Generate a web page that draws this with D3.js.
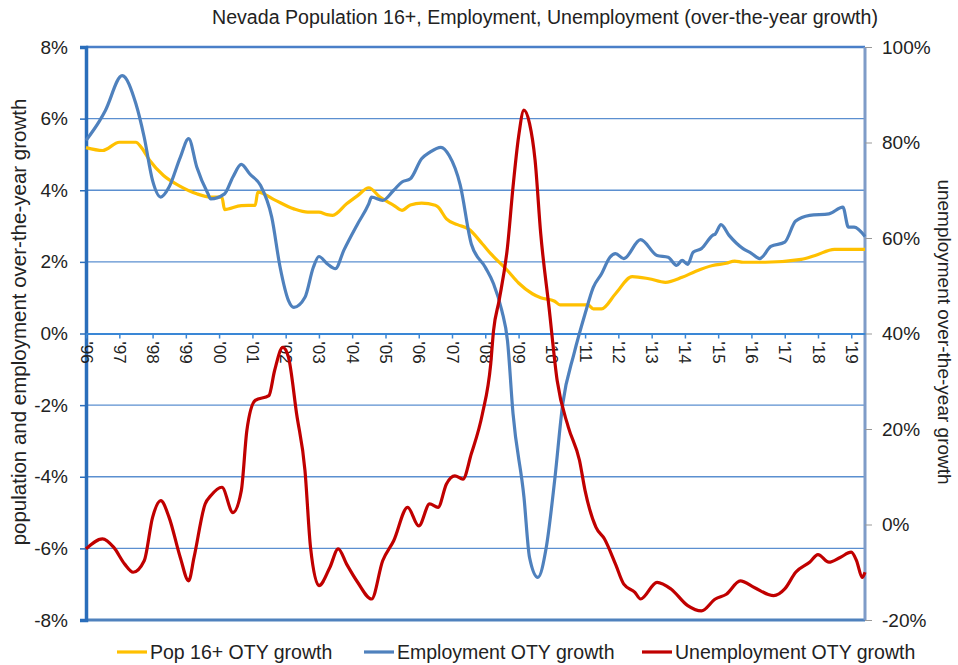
<!DOCTYPE html>
<html>
<head>
<meta charset="utf-8">
<script src="https://cdn.jsdelivr.net/npm/d3@7"></script>
<style>
  body { margin: 0; background: #fff; }
  text { font-family: "Liberation Sans", Arial, sans-serif; fill: #222; }
</style>
</head>
<body>
<svg id="chart" width="958" height="665"></svg>
<script>
// monthly points (left axis, %)
var popDates = ["1996-01","1996-07","1997-01","1997-07","1997-09","1997-12","1998-05","1998-11","1999-05","1999-10",
  "2000-02","2000-03","2000-09","2001-02","2001-03","2001-09","2002-04","2002-09","2003-01","2003-04","2003-06",
  "2003-11","2004-03","2004-07","2004-11","2005-04","2005-07","2005-10","2006-02","2006-07","2006-08","2006-11",
  "2007-03","2007-07","2007-12","2008-03","2008-09","2009-01","2009-06","2009-09","2010-02","2010-04","2011-02",
  "2011-04","2011-07","2011-12","2012-06","2012-12","2013-06","2013-12","2014-05","2014-11","2015-04","2015-07",
  "2015-10","2016-06","2017-07","2017-12","2018-07","2019-06"];
var popValues = [5.19,5.11,5.34,5.34,5.19,4.83,4.41,4.11,3.90,3.81,
  3.81,3.46,3.57,3.58,3.95,3.73,3.48,3.39,3.39,3.32,3.30,
  3.62,3.85,4.07,3.81,3.58,3.44,3.59,3.64,3.58,3.53,3.20,
  3.04,2.92,2.50,2.23,1.76,1.41,1.11,1.00,0.90,0.80,0.80,
  0.69,0.69,1.11,1.59,1.53,1.43,1.57,1.74,1.90,1.96,2.02,
  1.99,1.99,2.07,2.18,2.35,2.35];

var empDates = ["1996-01","1996-06","1996-08","1997-02","1997-07","1997-10","1998-01","1998-04","1998-07","1998-11",
  "1999-02","1999-05","1999-09","1999-10","2000-03","2000-06","2000-09","2000-12","2001-04","2001-08","2001-11",
  "2002-02","2002-04","2002-08","2002-11","2003-01","2003-04","2003-07","2003-10","2004-03","2004-07","2004-08",
  "2004-12","2005-04","2005-07","2005-10","2006-02","2006-05","2006-09","2006-12","2007-04","2007-08","2008-01",
  "2008-04","2008-07","2008-09","2008-11","2009-03","2009-05","2009-08","2009-11","2010-02","2010-05","2010-09",
  "2011-01","2011-04","2011-07","2011-10","2011-12","2012-03","2012-09","2013-03","2013-07","2013-10","2013-12",
  "2014-02","2014-04","2014-07","2014-11","2014-12","2015-02","2015-05","2015-10","2016-01","2016-04","2016-08",
  "2017-01","2017-05","2017-10","2018-05","2018-10","2018-12","2019-02","2019-06"];
var empValues = [5.39,5.95,6.23,7.20,6.42,5.48,4.27,3.81,4.09,4.92,
  5.44,4.65,3.90,3.76,3.90,4.37,4.72,4.46,4.13,3.25,1.85,
  0.92,0.73,1.01,1.85,2.15,1.95,1.81,2.32,3.06,3.62,3.81,
  3.72,4.00,4.23,4.32,4.88,5.06,5.20,4.97,4.15,2.50,1.85,
  1.39,0.64,-0.20,-2.24,-4.57,-6.25,-6.81,-5.97,-4.10,-1.96,-0.57,
  0.55,1.29,1.67,2.13,2.23,2.09,2.62,2.18,2.13,1.90,2.04,
  1.93,2.27,2.37,2.74,2.78,3.04,2.74,2.37,2.24,2.09,2.43,
  2.55,3.14,3.30,3.34,3.53,2.97,2.97,2.71];

// right axis, %
var unempDates = ["1996-01","1996-07","1996-11","1997-03","1997-06","1997-10","1998-01","1998-04","1998-07","1998-11",
  "1999-02","1999-04","1999-08","1999-10","2000-02","2000-06","2000-09","2000-11","2001-02","2001-07","2001-09",
  "2001-12","2002-02","2002-05","2002-08","2002-10","2003-01","2003-05","2003-08","2003-11","2004-03","2004-08",
  "2004-12","2005-04","2005-09","2006-01","2006-05","2006-08","2006-11","2007-02","2007-05","2007-08","2007-12",
  "2008-03","2008-04","2008-06","2008-09","2008-11","2009-01","2009-03","2009-05","2009-07","2009-09","2009-12",
  "2010-03","2010-07","2010-11","2011-01","2011-05","2011-08","2011-12","2012-03","2012-07","2012-09","2013-03",
  "2013-08","2014-02","2014-07","2014-12","2015-04","2015-09","2016-02","2016-09","2017-01","2017-05","2017-10",
  "2018-01","2018-05","2018-09","2019-01","2019-03","2019-05","2019-06"];
var unempValues = [-5.1,-3.0,-4.8,-8.3,-10.0,-7.6,1.5,5.0,1.5,-6.9,
  -11.8,-6.9,4.3,6.0,7.8,2.5,7.1,19.7,26.0,27.0,32.2,
  37.1,35.0,23.2,11.3,-4.8,-12.8,-9.0,-5.1,-8.3,-12.1,-15.6,
  -7.6,-3.4,3.6,-0.3,4.3,3.6,8.5,10.2,9.5,14.8,23.2,
  33.6,40.6,46.9,58.1,70.7,81.2,86.8,84.0,76.3,60.9,45.5,
  30.1,20.4,13.4,7.1,-0.6,-3.0,-8.3,-12.5,-14.2,-15.6,-12.1,
  -13.5,-17.0,-18.1,-15.6,-14.6,-11.8,-13.2,-14.9,-13.5,-10.0,-7.9,
  -6.3,-7.9,-6.9,-5.8,-7.6,-11.1,-10.0];

var leftTicks = [8,6,4,2,0,-2,-4,-6,-8];
var rightTicks = [100,80,60,40,20,0,-20];
var legendNames = ["Pop 16+ OTY growth","Employment OTY growth","Unemployment OTY growth"];
var colors = ["#ffc000","#4f81bd","#c00000"];

var svg = d3.select("#chart");
var W = 958, H = 665;
var m = {left: 86, right: 93, top: 47, bottom: 45};
var parse = d3.timeParse("%Y-%m");

var x = d3.scaleTime()
  .domain([parse("1996-01"), parse("2019-06")])
  .range([m.left, W - m.right]);
var y = d3.scaleLinear().domain([-8, 8]).range([H - m.bottom, m.top]);
var y2 = d3.scaleLinear().domain([-20, 100]).range([H - m.bottom, m.top]);

function zip(dates, vals) {
  return dates.map(function(d, i) { return {date: parse(d), v: vals[i]}; });
}

// gridlines
svg.append("g").selectAll("line")
  .data([6,4,2,-2,-4,-6])
  .enter().append("line")
  .attr("x1", m.left).attr("x2", W - m.right)
  .attr("y1", function(d) { return y(d); }).attr("y2", function(d) { return y(d); })
  .attr("stroke", "#5b8fd0").attr("stroke-width", 1.3);

// frame
svg.append("line").attr("x1", m.left).attr("x2", W - m.right).attr("y1", y(8)).attr("y2", y(8))
  .attr("stroke", "#4a7fc8").attr("stroke-width", 2.5);
svg.append("line").attr("x1", m.left).attr("x2", W - m.right).attr("y1", y(-8)).attr("y2", y(-8))
  .attr("stroke", "#4f81bd").attr("stroke-width", 3);
svg.append("line").attr("x1", W - m.right).attr("x2", W - m.right).attr("y1", y(8)).attr("y2", y(-8))
  .attr("stroke", "#7f9cc8").attr("stroke-width", 3);

// left axis
var yAxis = d3.axisLeft(y).tickValues(leftTicks).tickSize(6).tickPadding(12)
  .tickFormat(function(d) { return d + "%"; });
var gy = svg.append("g").attr("transform", "translate(" + m.left + ",0)").call(yAxis);
gy.select(".domain").attr("stroke", "#2a6ebb").attr("stroke-width", 3.5);
gy.selectAll(".tick line").attr("stroke", "#2a6ebb").attr("stroke-width", 1.5);
gy.selectAll(".tick text").style("font-size", "19px").style("font-family", "Liberation Sans, Arial").attr("fill", "#222");

// right axis
var y2Axis = d3.axisRight(y2).tickValues(rightTicks).tickSize(7).tickPadding(10)
  .tickFormat(function(d) { return d + "%"; });
var gy2 = svg.append("g").attr("transform", "translate(" + (W - m.right) + ",0)").call(y2Axis);
gy2.select(".domain").remove();
gy2.selectAll(".tick line").attr("stroke", "#999");
gy2.selectAll(".tick text").style("font-size", "19px").style("font-family", "Liberation Sans, Arial").attr("fill", "#222");

// x axis on the 0% line
var years = d3.range(1996, 2020).map(function(yr) { return new Date(yr, 0, 1); });
var xAxis = d3.axisBottom(x).tickValues(years).tickSize(5).tickSizeOuter(0)
  .tickFormat(function(d) { return "'" + d3.timeFormat("%y")(d); });
var gx = svg.append("g").attr("transform", "translate(0," + y(0) + ")").call(xAxis);
gx.select(".domain").attr("stroke", "#3a87d6").attr("stroke-width", 2);
gx.selectAll(".tick line").attr("stroke", "#3a87d6").attr("stroke-width", 1.5);
gx.selectAll(".tick text")
  .style("font-size", "17px").style("font-family", "Liberation Sans, Arial").attr("fill", "#222")
  .attr("text-anchor", "start")
  .attr("transform", "rotate(90)")
  .attr("x", 8).attr("y", 0).attr("dy", "0.35em");

// series
var series = [
  {data: zip(popDates, popValues), sc: y, color: colors[0]},
  {data: zip(empDates, empValues), sc: y, color: colors[1]},
  {data: zip(unempDates, unempValues), sc: y2, color: colors[2]}
];
series.forEach(function(s) {
  var line = d3.line()
    .x(function(d) { return x(d.date); })
    .y(function(d) { return s.sc(d.v); })
    .curve(d3.curveMonotoneX);
  svg.append("path").datum(s.data)
    .attr("fill", "none").attr("stroke", s.color)
    .attr("stroke-width", 3.2).attr("stroke-linejoin", "round")
    .attr("d", line);
});

// titles
svg.append("text").attr("x", 545).attr("y", 24).attr("text-anchor", "middle")
  .style("font-size", "19.6px")
  .text("Nevada Population 16+, Employment, Unemployment (over-the-year growth)");
svg.append("text").attr("transform", "translate(26,322) rotate(-90)").attr("text-anchor", "middle")
  .style("font-size", "20.5px")
  .text("population and employment over-the-year growth");
svg.append("text").attr("transform", "translate(938,332) rotate(90)").attr("text-anchor", "middle")
  .style("font-size", "19px")
  .text("unemployment over-the-year growth");

// legend
var legendX = [117, 364, 642];
var lg = svg.append("g").selectAll("g")
  .data(legendNames).enter().append("g")
  .attr("transform", function(d, i) { return "translate(" + legendX[i] + ",652)"; });
lg.append("line").attr("x1", 0).attr("x2", 30).attr("y1", 0).attr("y2", 0)
  .attr("stroke", function(d, i) { return colors[i]; }).attr("stroke-width", 3.2);
lg.append("text").attr("x", 33).attr("dy", "0.35em").style("font-size", "19.5px")
  .text(function(d) { return d; });
</script>
</body>
</html>
